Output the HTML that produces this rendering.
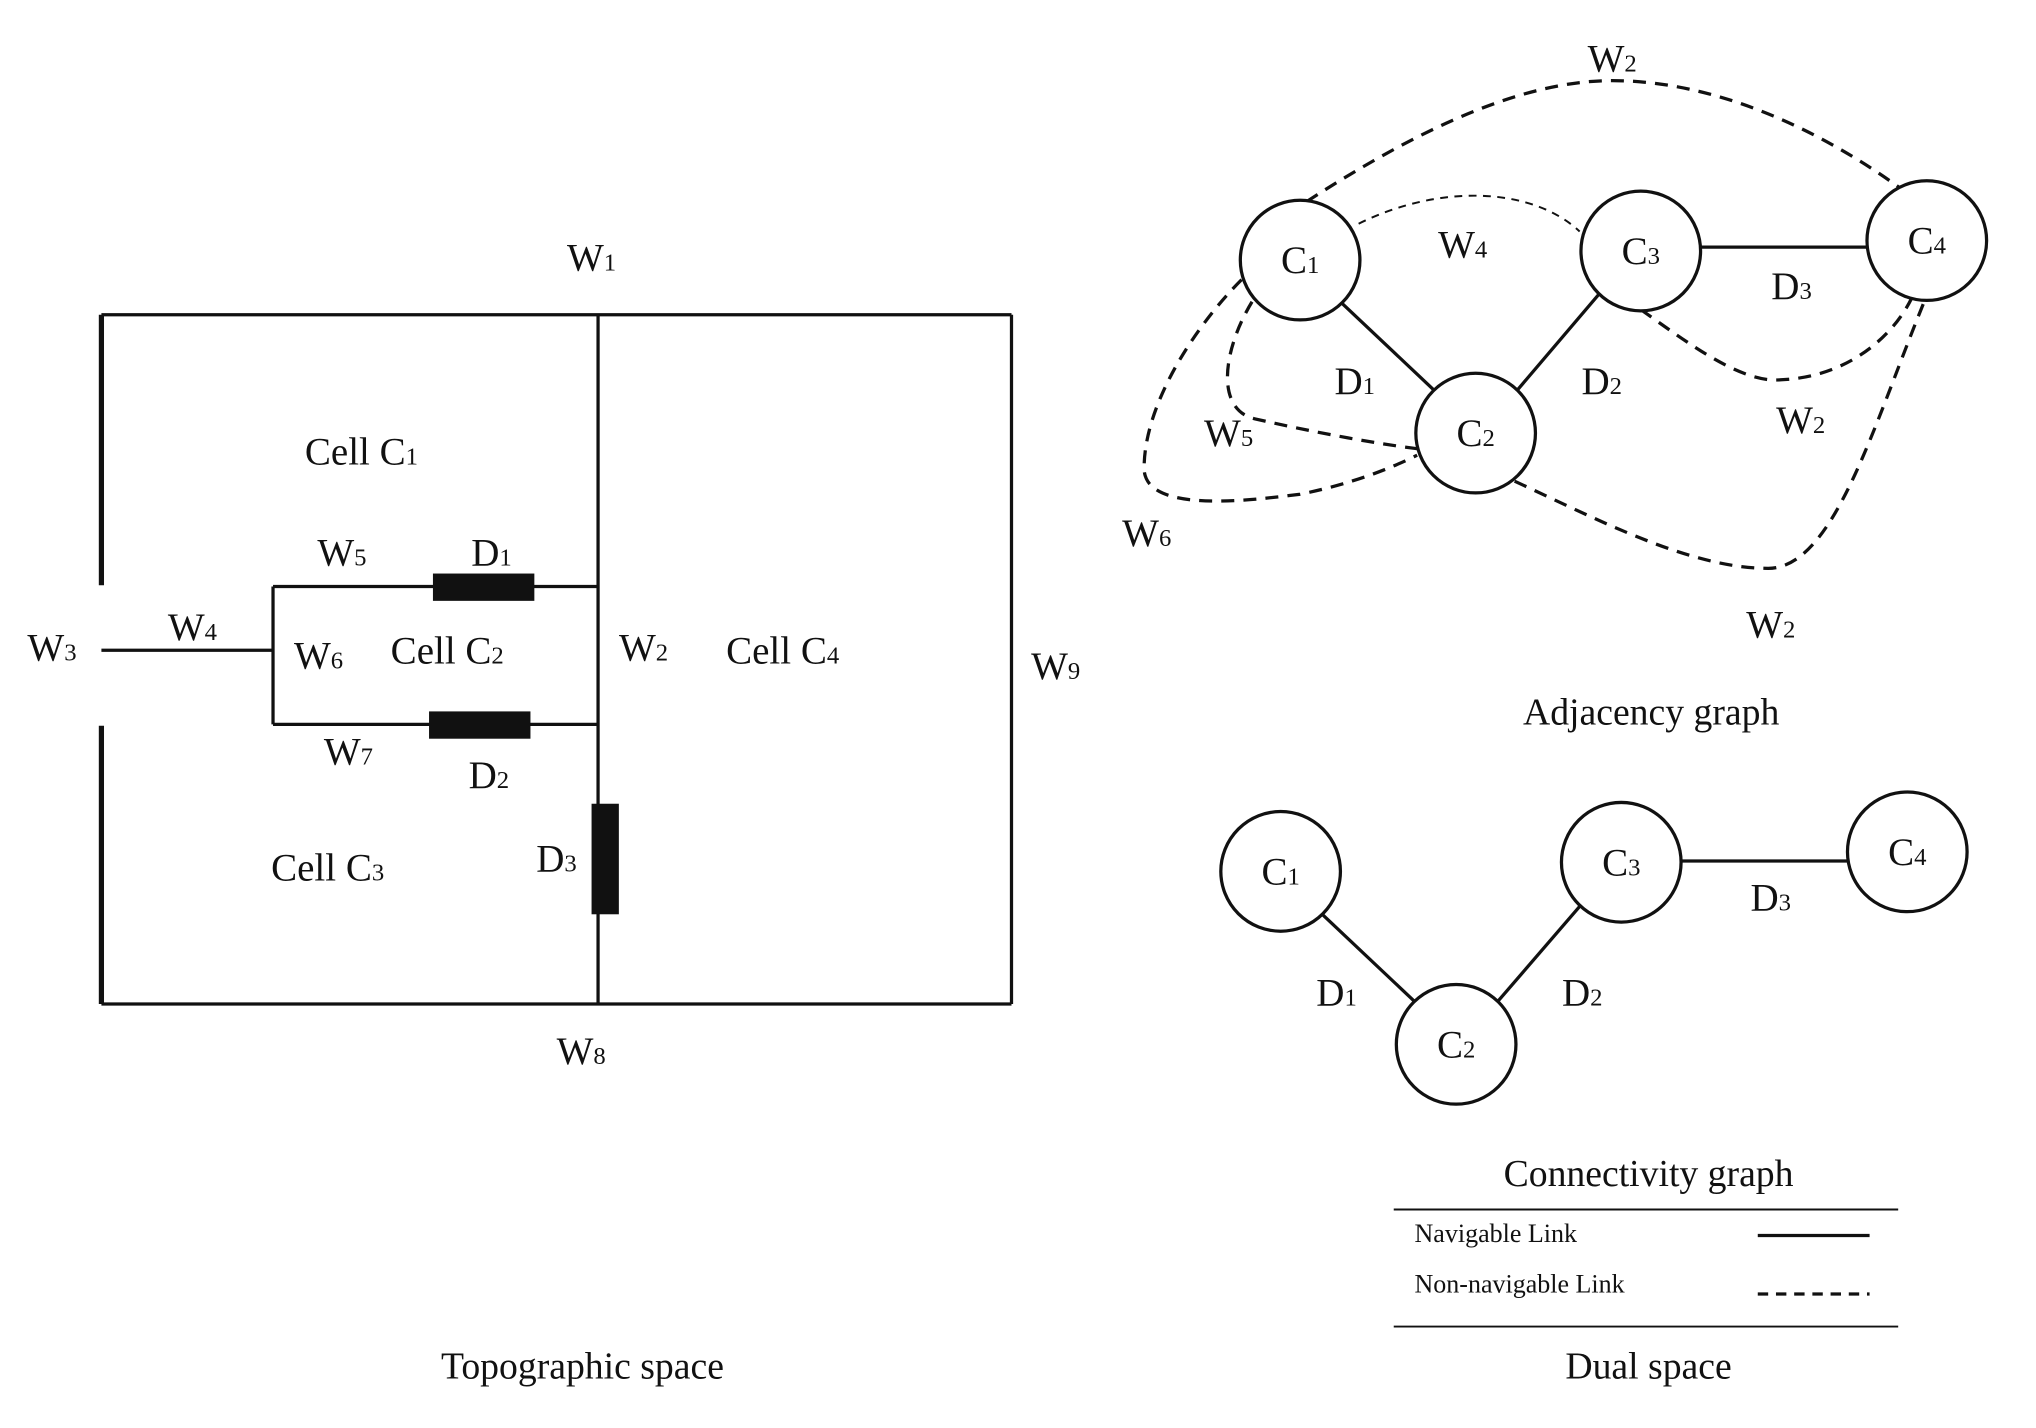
<!DOCTYPE html>
<html><head><meta charset="utf-8"><style>
html,body{margin:0;padding:0;background:#fff;}
svg{display:block;}
text{font-family:"Liberation Serif",serif;fill:#111;}
</style></head><body>
<svg width="2036" height="1428" viewBox="0 0 1566 1098" preserveAspectRatio="none" xmlns="http://www.w3.org/2000/svg">
<g stroke="#111" stroke-width="2.5" fill="none">
<line x1="78" y1="242" x2="778" y2="242"/>
<line x1="78" y1="772" x2="778" y2="772"/>
<line x1="778" y1="242" x2="778" y2="772"/>
<line x1="78" y1="242" x2="78" y2="450" stroke-width="4"/>
<line x1="78" y1="558" x2="78" y2="772" stroke-width="4"/>
<line x1="460" y1="242" x2="460" y2="772"/>
<line x1="78" y1="500" x2="210" y2="500"/>
<line x1="210" y1="451" x2="210" y2="557"/>
<line x1="210" y1="451" x2="460" y2="451"/>
<line x1="210" y1="557" x2="460" y2="557"/>
</g>
<rect x="333" y="441" width="78" height="21" fill="#111"/>
<rect x="330" y="547" width="78" height="21" fill="#111"/>
<rect x="455" y="618" width="21" height="85" fill="#111"/>
<g font-size="30" text-anchor="middle">
<text x="455" y="208">W<tspan font-size="19">1</tspan></text>
<text x="278" y="357">Cell C<tspan font-size="19">1</tspan></text>
<text x="263" y="435">W<tspan font-size="19">5</tspan></text>
<text x="378" y="435">D<tspan font-size="19">1</tspan></text>
<text x="148" y="492">W<tspan font-size="19">4</tspan></text>
<text x="40" y="508">W<tspan font-size="19">3</tspan></text>
<text x="245" y="514">W<tspan font-size="19">6</tspan></text>
<text x="344" y="510">Cell C<tspan font-size="19">2</tspan></text>
<text x="495" y="508">W<tspan font-size="19">2</tspan></text>
<text x="602" y="510">Cell C<tspan font-size="19">4</tspan></text>
<text x="812" y="522">W<tspan font-size="19">9</tspan></text>
<text x="268" y="588">W<tspan font-size="19">7</tspan></text>
<text x="376" y="606">D<tspan font-size="19">2</tspan></text>
<text x="252" y="677">Cell C<tspan font-size="19">3</tspan></text>
<text x="428" y="670">D<tspan font-size="19">3</tspan></text>
<text x="447" y="818">W<tspan font-size="19">8</tspan></text>
<text x="448" y="1060" font-size="29">Topographic space</text>
</g>
<g stroke="#111" stroke-width="2.5" fill="none">
<line x1="1308" y1="190" x2="1436" y2="190"/>
<line x1="1032" y1="233" x2="1103" y2="300"/>
<line x1="1230" y1="226" x2="1167" y2="300"/>
<g stroke-dasharray="10,7">
<path d="M1005,155 C1090,100 1170,62 1240,62 C1320,62 1400,100 1462,145"/>
<path d="M1262,238 C1300,265 1340,295 1370,292 C1420,290 1455,260 1470,230"/>
<path d="M1165,370 C1230,400 1300,437 1360,437 C1410,437 1440,330 1480,232"/>
<path d="M963,232 C940,270 935,315 965,322 C1000,330 1050,340 1090,345"/>
<path d="M955,215 C920,250 880,310 880,360 C880,395 960,385 1000,380 C1040,372 1070,360 1090,350"/>
</g>
<path d="M1045,172 C1110,140 1180,145 1215,178" stroke-width="1.5" stroke-dasharray="6,5"/>
<circle cx="1000" cy="200" r="46" fill="#fff"/>
<circle cx="1262" cy="193" r="46" fill="#fff"/>
<circle cx="1482" cy="185" r="46" fill="#fff"/>
<circle cx="1135" cy="333" r="46" fill="#fff"/>
</g>
<g font-size="30" text-anchor="middle">
<text x="1000" y="210">C<tspan font-size="19">1</tspan></text>
<text x="1262" y="203">C<tspan font-size="19">3</tspan></text>
<text x="1482" y="195">C<tspan font-size="19">4</tspan></text>
<text x="1135" y="343">C<tspan font-size="19">2</tspan></text>
<text x="1240" y="55">W<tspan font-size="19">2</tspan></text>
<text x="1125" y="198">W<tspan font-size="19">4</tspan></text>
<text x="1378" y="230">D<tspan font-size="19">3</tspan></text>
<text x="1042" y="303">D<tspan font-size="19">1</tspan></text>
<text x="1232" y="303">D<tspan font-size="19">2</tspan></text>
<text x="1385" y="333">W<tspan font-size="19">2</tspan></text>
<text x="945" y="343">W<tspan font-size="19">5</tspan></text>
<text x="882" y="420">W<tspan font-size="19">6</tspan></text>
<text x="1362" y="490">W<tspan font-size="19">2</tspan></text>
<text x="1270" y="557" font-size="29">Adjacency graph</text>
</g>
<g stroke="#111" stroke-width="2.5" fill="none">
<line x1="1293" y1="662" x2="1421" y2="662"/>
<line x1="1017" y1="703" x2="1088" y2="770"/>
<line x1="1215" y1="697" x2="1152" y2="770"/>
<circle cx="985" cy="670" r="46" fill="#fff"/>
<circle cx="1247" cy="663" r="46" fill="#fff"/>
<circle cx="1467" cy="655" r="46" fill="#fff"/>
<circle cx="1120" cy="803" r="46" fill="#fff"/>
<line x1="1072" y1="930" x2="1460" y2="930" stroke-width="1.5"/>
<line x1="1072" y1="1020" x2="1460" y2="1020" stroke-width="1.5"/>
<line x1="1352" y1="950" x2="1438" y2="950"/>
<line x1="1352" y1="995" x2="1438" y2="995" stroke-dasharray="8,6"/>
</g>
<g font-size="30" text-anchor="middle">
<text x="985" y="680">C<tspan font-size="19">1</tspan></text>
<text x="1247" y="673">C<tspan font-size="19">3</tspan></text>
<text x="1467" y="665">C<tspan font-size="19">4</tspan></text>
<text x="1120" y="813">C<tspan font-size="19">2</tspan></text>
<text x="1362" y="700">D<tspan font-size="19">3</tspan></text>
<text x="1028" y="773">D<tspan font-size="19">1</tspan></text>
<text x="1217" y="773">D<tspan font-size="19">2</tspan></text>
<text x="1268" y="912" font-size="29">Connectivity graph</text>
<text x="1268" y="1060" font-size="29">Dual space</text>
</g>
<text x="1088" y="955" font-size="20">Navigable Link</text>
<text x="1088" y="994" font-size="20">Non-navigable Link</text>
</svg>
</body></html>
